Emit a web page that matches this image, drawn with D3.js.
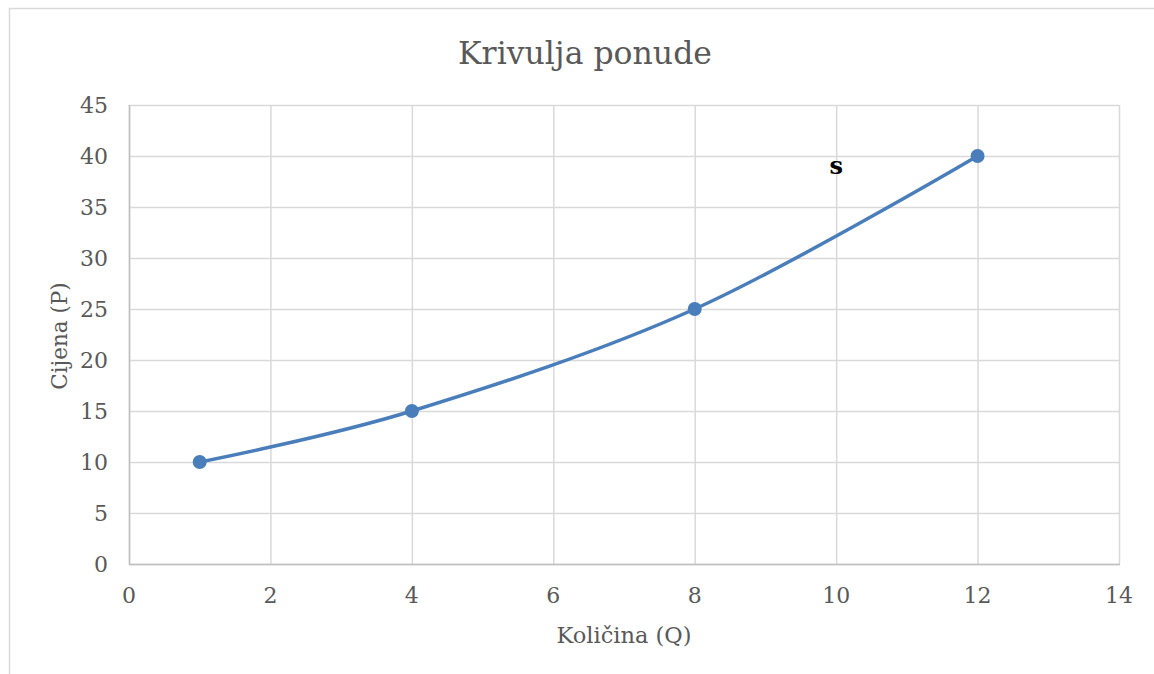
<!DOCTYPE html>
<html>
<head>
<meta charset="utf-8">
<script src="https://cdn.jsdelivr.net/npm/d3@7"></script>
<style>
  body { margin: 0; background: #fff; }
  text { font-family: "DejaVu Serif", serif; fill: #595959; }
</style>
</head>
<body>
<script>
// data
var quantity = [1, 4, 8, 12];
var price = [10, 15, 25, 40];
var xTicks = [0, 2, 4, 6, 8, 10, 12, 14];
var yTicks = [0, 5, 10, 15, 20, 25, 30, 35, 40, 45];
var curveLabel = { text: "s", x: 10, y: 39 };

var width = 1154, height = 674;
var plotL = 129, plotR = 1119, plotT = 105, plotB = 564;

var svg = d3.select("body").append("svg").attr("width", width).attr("height", height);

// outer chart frame (runs off canvas right/bottom)
svg.append("rect").attr("x", 9.5).attr("y", 8.5).attr("width", 1200).attr("height", 700)
  .attr("fill", "none").attr("stroke", "#d9d9d9").attr("stroke-width", 1.5);

var x = d3.scaleLinear().domain([0, 14]).range([plotL, plotR]);
var y = d3.scaleLinear().domain([0, 45]).range([plotB, plotT]);

// gridlines
svg.append("g").selectAll("line").data(yTicks).enter().append("line")
  .attr("x1", plotL).attr("x2", plotR)
  .attr("y1", function(d) { return y(d) + 0.5; }).attr("y2", function(d) { return y(d) + 0.5; })
  .attr("stroke", "#d9d9d9").attr("stroke-width", 1.5);
svg.append("g").selectAll("line").data(xTicks).enter().append("line")
  .attr("y1", plotT).attr("y2", plotB)
  .attr("x1", function(d) { return x(d) + 0.5; }).attr("x2", function(d) { return x(d) + 0.5; })
  .attr("stroke", "#d9d9d9").attr("stroke-width", 1.5);

// axis lines
svg.append("line").attr("x1", plotL + 0.5).attr("x2", plotL + 0.5).attr("y1", plotT).attr("y2", plotB + 1)
  .attr("stroke", "#bfbfbf").attr("stroke-width", 1.5);
svg.append("line").attr("x1", plotL).attr("x2", plotR + 1).attr("y1", plotB + 0.5).attr("y2", plotB + 0.5)
  .attr("stroke", "#bfbfbf").attr("stroke-width", 1.5);

// tick labels
svg.append("g").selectAll("text").data(yTicks).enter().append("text")
  .attr("x", plotL - 21).attr("y", function(d) { return y(d); })
  .attr("dy", "0.36em").attr("text-anchor", "end").attr("font-size", 22)
  .text(function(d) { return d; });
svg.append("g").selectAll("text").data(xTicks).enter().append("text")
  .attr("x", function(d) { return x(d); }).attr("y", plotB + 39)
  .attr("text-anchor", "middle").attr("font-size", 22)
  .text(function(d) { return d; });

// titles
svg.append("text").attr("x", 585).attr("y", 64).attr("text-anchor", "middle")
  .attr("font-size", 31.5).text("Krivulja ponude");
svg.append("text").attr("x", 624).attr("y", 643).attr("text-anchor", "middle")
  .attr("font-size", 22.5).text("Količina (Q)");
svg.append("text").attr("transform", "translate(67," + 336 + ") rotate(-90)")
  .attr("text-anchor", "middle").attr("font-size", 21.5).text("Cijena (P)");

// supply curve
var pts = quantity.map(function(q, i) { return { q: q, p: price[i] }; });
var line = d3.line()
  .x(function(d) { return x(d.q); })
  .y(function(d) { return y(d.p); })
  .curve(d3.curveCardinal.tension(0));
svg.append("path").attr("d", line(pts)).attr("fill", "none")
  .attr("stroke", "#4a7ebb").attr("stroke-width", 3.5).attr("stroke-linecap", "round");
svg.selectAll("circle").data(pts).enter().append("circle")
  .attr("cx", function(d) { return x(d.q); }).attr("cy", function(d) { return y(d.p); })
  .attr("r", 7).attr("fill", "#4a7ebb");

svg.append("text").attr("x", x(curveLabel.x)).attr("y", y(curveLabel.y) + 8)
  .attr("text-anchor", "middle").attr("font-family", "Liberation Serif")
  .attr("font-weight", "bold").attr("font-size", 24).style("fill", "#000")
  .text(curveLabel.text);
</script>
</body>
</html>
